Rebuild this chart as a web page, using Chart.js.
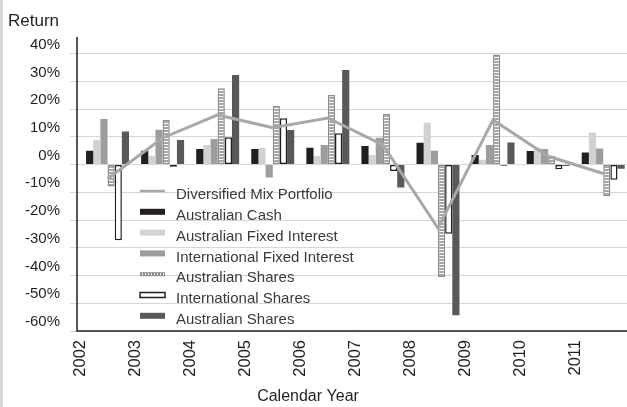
<!DOCTYPE html>
<html>
<head>
<meta charset="utf-8">
<script src="https://cdn.jsdelivr.net/npm/chart.js@4.4.1/dist/chart.umd.min.js"></script>
<style>
  html, body { margin: 0; padding: 0; background: #fff; overflow: hidden; }
  #wrap { position: relative; width: 627px; height: 407px; overflow: hidden; }
  #edge { position: absolute; left: 0; top: 0; width: 3px; height: 407px; background: #d6d6d6; }
  canvas { position: absolute; left: 0; top: 0; }
</style>
</head>
<body>
<div id="wrap">
  <canvas id="chart" width="632" height="407"></canvas>
  <div id="edge"></div>
</div>
<script>
// Données (rendement annuel, %)
const years = ['2002', '2003', '2004', '2005', '2006', '2007', '2008', '2009', '2010', '2011'];
const yTicks = [-60, -50, -40, -30, -20, -10, 0, 10, 20, 30, 40];

const diversifiedMix = [-5.1, 9.6, 17.9, 13.3, 16.8, 7.1, -22.9, 16.1, 3.0, -3.2];
const ausCash = [5.0, 5.0, 5.6, 5.6, 6.1, 6.7, 7.9, 3.5, 4.9, 4.4];
const ausFixedInterest = [8.9, 3.2, 7.1, 6.0, 3.1, 3.5, 15.1, 1.7, 6.1, 11.5];
const intlFixedInterest = [16.4, 12.6, 9.2, -4.7, 7.1, 9.7, 5.0, 7.1, 5.6, 5.8];
const ausShares = [-7.9, 16.1, 27.5, 21.1, 25.1, 18.2, -40.5, 39.7, 3.2, -11.3];
const intlShares = [-27.3, -0.8, 9.9, 16.7, 11.3, -2.3, -24.9, -0.4, -1.7, -5.5];
const ausSharesDark = [11.9, 8.9, 32.3, 12.5, 34.1, -8.3, -54.3, 8.0, -0.5, -1.5];

const FONT = '"Liberation Sans", Arial, Helvetica, sans-serif';
const INK = '#231f20';

// Motif rayé pour "Australian Shares"
function makeStripes() {
    const c = document.createElement('canvas');
    c.width = 2;
    c.height = 3;
    const g = c.getContext('2d');
    g.fillStyle = '#a3a3a3';
    g.fillRect(0, 0, 2, 3);
    g.fillStyle = '#ffffff';
    g.fillRect(0, 0, 2, 1);
    return g.createPattern(c, 'repeat');
}
const stripes = makeStripes();

// Titres, axes et légende dessinés à la main
const decor = {
    id: 'decor',
    afterDraw(chart) {
        const { ctx, chartArea: a } = chart;
        ctx.save();

        ctx.strokeStyle = INK;
        ctx.lineWidth = 1.5;
        ctx.beginPath();
        ctx.moveTo(77, a.top);
        ctx.lineTo(77, a.bottom);
        ctx.lineTo(a.right, a.bottom);
        ctx.stroke();

        ctx.fillStyle = INK;
        ctx.textBaseline = 'middle';
        ctx.textAlign = 'left';
        ctx.font = '17px ' + FONT;
        ctx.fillText('Return', 8, 21);
        ctx.textAlign = 'center';
        ctx.font = '16px ' + FONT;
        ctx.fillText('Calendar Year', 308, 397);

        // légende
        const x0 = 140, w = 25, textX = 176;
        let y = 195;
        ctx.font = '15px ' + FONT;
        ctx.textAlign = 'left';
        chart.data.datasets.forEach(ds => {
            const cy = y - 4;
            if (ds.legendStyle === 'line') {
                ctx.strokeStyle = ds.borderColor;
                ctx.lineWidth = 2.5;
                ctx.beginPath();
                ctx.moveTo(x0, cy);
                ctx.lineTo(x0 + w, cy);
                ctx.stroke();
            } else if (ds.legendStyle === 'striped') {
                ctx.fillStyle = '#8c8c8c';
                ctx.fillRect(x0, cy - 2, w, 4);
                ctx.fillStyle = '#fff';
                for (let i = x0 + 2; i < x0 + w - 1; i += 3) {
                    ctx.fillRect(i, cy - 1, 1, 2);
                }
            } else if (ds.legendStyle === 'outline') {
                ctx.fillStyle = '#fff';
                ctx.fillRect(x0, cy - 2.5, w, 5);
                ctx.strokeStyle = INK;
                ctx.lineWidth = 1.5;
                ctx.strokeRect(x0, cy - 2.5, w, 5);
            } else {
                ctx.fillStyle = ds.backgroundColor;
                ctx.fillRect(x0, cy - 3, w, 6);
            }
            ctx.fillStyle = '#3a3a3a';
            ctx.fillText(ds.label, textX, y);
            y += 20.8;
        });

        ctx.restore();
    }
};

function barSet(label, data, bg, extra) {
    return Object.assign({
        type: 'bar',
        label: label,
        data: data,
        backgroundColor: bg,
        borderWidth: 0,
        order: 1,
        legendStyle: 'bar'
    }, extra || {});
}

const chart = new Chart(document.getElementById('chart'), {
    type: 'bar',
    data: {
        labels: years,
        datasets: [
            {
                type: 'line',
                label: 'Diversified Mix Portfolio',
                data: diversifiedMix,
                borderColor: '#a8a8a8',
                borderWidth: 3,
                pointRadius: 0,
                tension: 0,
                order: 0,
                legendStyle: 'line'
            },
            barSet('Australian Cash', ausCash, INK),
            barSet('Australian Fixed Interest', ausFixedInterest, '#d2d2d2'),
            barSet('International Fixed Interest', intlFixedInterest, '#9d9d9f'),
            barSet('Australian Shares', ausShares, stripes, {
                borderColor: '#8c8c8c', borderWidth: 1.5, borderSkipped: false, legendStyle: 'striped'
            }),
            barSet('International Shares', intlShares, '#ffffff', {
                borderColor: INK, borderWidth: 1.5, borderSkipped: false, legendStyle: 'outline'
            }),
            barSet('Australian Shares', ausSharesDark, '#58595b')
        ]
    },
    options: {
        responsive: false,
        animation: false,
        devicePixelRatio: 1,
        layout: { padding: { top: 37, right: 0, bottom: 0, left: 0 } },
        datasets: {
            bar: { categoryPercentage: 0.78, barPercentage: 1 }
        },
        plugins: {
            legend: { display: false },
            tooltip: { enabled: false }
        },
        scales: {
            x: {
                offset: true,
                grid: { display: false, drawTicks: false },
                border: { display: false },
                ticks: {
                    color: INK,
                    font: { family: FONT, size: 16.5 },
                    minRotation: 90,
                    maxRotation: 90,
                    autoSkip: false,
                    padding: 9,
                    labelOffset: -27.5
                },
                afterFit: (scale) => { scale.height = 76; }
            },
            y: {
                min: -60,
                max: 46,
                afterBuildTicks: (scale) => {
                    scale.ticks = yTicks.map(v => ({ value: v }));
                },
                grid: {
                    color: '#d6d6d6',
                    lineWidth: 1,
                    tickLength: 10
                },
                border: { display: false },
                ticks: {
                    color: INK,
                    font: { family: FONT, size: 15 },
                    padding: 10,
                    labelOffset: -9,
                    callback: (v) => v + '%'
                },
                afterFit: (scale) => { scale.width = 80; }
            }
        }
    },
    plugins: [decor]
});
</script>
</body>
</html>
